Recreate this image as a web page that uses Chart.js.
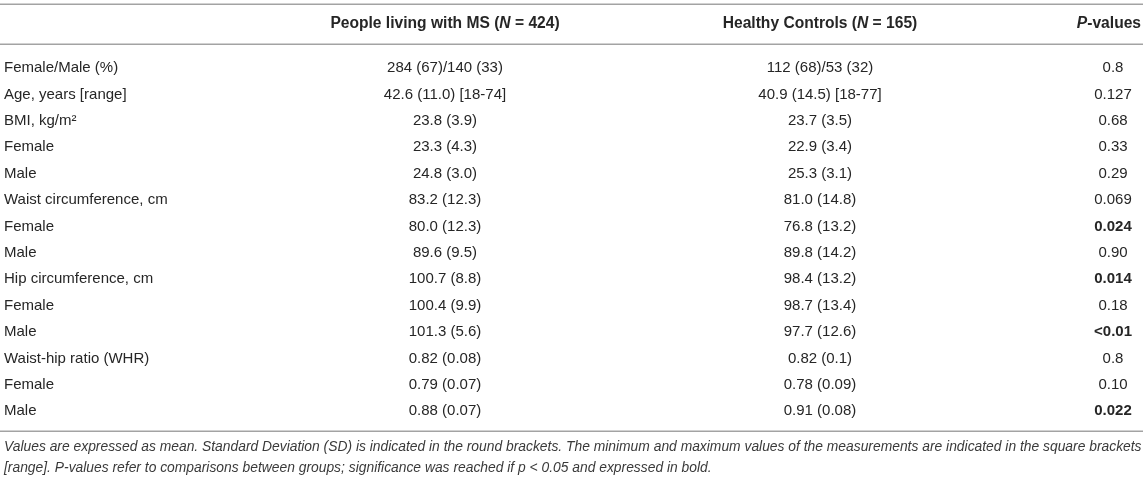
<!DOCTYPE html>
<html>
<head>
<meta charset="utf-8">
<script src="https://cdn.jsdelivr.net/npm/chart.js@4.4.0/dist/chart.umd.min.js"></script>
<style>
  html, body { margin: 0; padding: 0; background: #fff; }
  #wrap { width: 1145px; height: 481px; position: relative; }
</style>
</head>
<body>
<div id="wrap"><canvas id="tableChart"></canvas></div>
<script>
// Table content, one small array per column
var rowLabels = [
  'Female/Male (%)', 'Age, years [range]', 'BMI, kg/m\u00b2', 'Female', 'Male',
  'Waist circumference, cm', 'Female', 'Male', 'Hip circumference, cm', 'Female', 'Male',
  'Waist-hip ratio (WHR)', 'Female', 'Male'
];
var msValues = [
  '284 (67)/140 (33)', '42.6 (11.0) [18-74]', '23.8 (3.9)', '23.3 (4.3)', '24.8 (3.0)',
  '83.2 (12.3)', '80.0 (12.3)', '89.6 (9.5)', '100.7 (8.8)', '100.4 (9.9)', '101.3 (5.6)',
  '0.82 (0.08)', '0.79 (0.07)', '0.88 (0.07)'
];
var hcValues = [
  '112 (68)/53 (32)', '40.9 (14.5) [18-77]', '23.7 (3.5)', '22.9 (3.4)', '25.3 (3.1)',
  '81.0 (14.8)', '76.8 (13.2)', '89.8 (14.2)', '98.4 (13.2)', '98.7 (13.4)', '97.7 (12.6)',
  '0.82 (0.1)', '0.78 (0.09)', '0.91 (0.08)'
];
var pValues = [
  '0.8', '0.127', '0.68', '0.33', '0.29', '0.069', '0.024', '0.90', '0.014', '0.18', '<0.01',
  '0.8', '0.10', '0.022'
];
var pSignificant = [
  false, false, false, false, false, false, true, false, true, false, true,
  false, false, true
];
// header segments: [text, italic]
var msHeader = [['People living with MS (', false], ['N', true], [' = 424)', false]];
var hcHeader = [['Healthy Controls (', false], ['N', true], [' = 165)', false]];
var pHeader = [['P', true], ['-values', false]];
var footnote = [
  'Values are expressed as mean. Standard Deviation (SD) is indicated in the round brackets. The minimum and maximum values of the measurements are indicated in the square brackets',
  '[range]. P-values refer to comparisons between groups; significance was reached if p < 0.05 and expressed in bold.'
];

// layout (row units on the y scale, pixels on the x scale)
var FIRST_ROW_PX = 68, ROW_STEP_PX = 26.4;
var COL_LABEL = 4, COL_MS = 445, COL_HC = 820, COL_P = 1113;
var ROW_HEADER = (24 - FIRST_ROW_PX) / ROW_STEP_PX;
var RULES = [4, 44, 431].map(function (p) { return (p - FIRST_ROW_PX) / ROW_STEP_PX; });
var NOTE_ROWS = [447.5, 468].map(function (p) { return (p - FIRST_ROW_PX) / ROW_STEP_PX; });
var FONT = '"Liberation Sans", Arial, Helvetica, sans-serif';
var TEXT = '#262626';

function columnData(x) {
  return rowLabels.map(function (_, i) { return { x: x, y: i }; });
}

function drawSegments(ctx, segs, x, y, align) {
  var widths = segs.map(function (s) {
    ctx.font = (s[1] ? 'italic ' : '') + 'bold 15.6px ' + FONT;
    return ctx.measureText(s[0]).width;
  });
  var total = widths.reduce(function (a, b) { return a + b; }, 0);
  var start = align === 'right' ? x - total : x - total / 2;
  ctx.textAlign = 'left';
  segs.forEach(function (s, i) {
    ctx.font = (s[1] ? 'italic ' : '') + 'bold 15.6px ' + FONT;
    ctx.fillText(s[0], start, y);
    start += widths[i];
  });
}

var tablePlugin = {
  id: 'tablePlugin',
  afterDatasetsDraw: function (chart) {
    var ctx = chart.ctx;
    var xs = chart.scales.x, ys = chart.scales.y;
    ctx.save();
    ctx.fillStyle = TEXT;
    ctx.textBaseline = 'middle';

    // rules
    ctx.strokeStyle = '#a3a3a3';
    ctx.lineWidth = 1.5;
    RULES.forEach(function (r) {
      var py = Math.round(ys.getPixelForValue(r)) + 0.25;
      ctx.beginPath();
      ctx.moveTo(xs.getPixelForValue(0), py);
      ctx.lineTo(xs.getPixelForValue(1143), py);
      ctx.stroke();
    });

    // header row
    var hy = ys.getPixelForValue(ROW_HEADER);
    drawSegments(ctx, msHeader, xs.getPixelForValue(COL_MS), hy, 'center');
    drawSegments(ctx, hcHeader, xs.getPixelForValue(COL_HC), hy, 'center');
    drawSegments(ctx, pHeader, xs.getPixelForValue(1141), hy, 'right');

    // body cells, placed at each dataset's point elements
    chart.data.datasets.forEach(function (ds, di) {
      var meta = chart.getDatasetMeta(di);
      meta.data.forEach(function (pt, i) {
        var bold = ds.bold ? ds.bold[i] : false;
        ctx.font = (bold ? 'bold ' : '') + '15px ' + FONT;
        ctx.textAlign = ds.align;
        ctx.fillText(ds.cells[i], pt.x, pt.y);
      });
    });

    // footnote
    ctx.font = 'italic 13.85px ' + FONT;
    ctx.textAlign = 'left';
    ctx.fillStyle = '#3a3a3a';
    footnote.forEach(function (line, i) {
      ctx.fillText(line, xs.getPixelForValue(COL_LABEL), ys.getPixelForValue(NOTE_ROWS[i]));
    });
    ctx.restore();
  }
};

new Chart(document.getElementById('tableChart'), {
  type: 'scatter',
  data: {
    datasets: [
      { label: 'Variable', data: columnData(COL_LABEL), cells: rowLabels, align: 'left' },
      { label: 'MS', data: columnData(COL_MS), cells: msValues, align: 'center' },
      { label: 'Controls', data: columnData(COL_HC), cells: hcValues, align: 'center' },
      { label: 'P', data: columnData(COL_P), cells: pValues, bold: pSignificant, align: 'center' }
    ]
  },
  options: {
    responsive: true,
    maintainAspectRatio: false,
    animation: false,
    layout: { padding: 0 },
    elements: { point: { radius: 0, hoverRadius: 0 } },
    plugins: { legend: { display: false }, tooltip: { enabled: false } },
    scales: {
      x: { type: 'linear', display: false, min: 0, max: 1145 },
      y: {
        type: 'linear', display: false, reverse: true,
        min: -FIRST_ROW_PX / ROW_STEP_PX, max: (481 - FIRST_ROW_PX) / ROW_STEP_PX
      }
    }
  },
  plugins: [tablePlugin]
});
</script>
</body>
</html>
